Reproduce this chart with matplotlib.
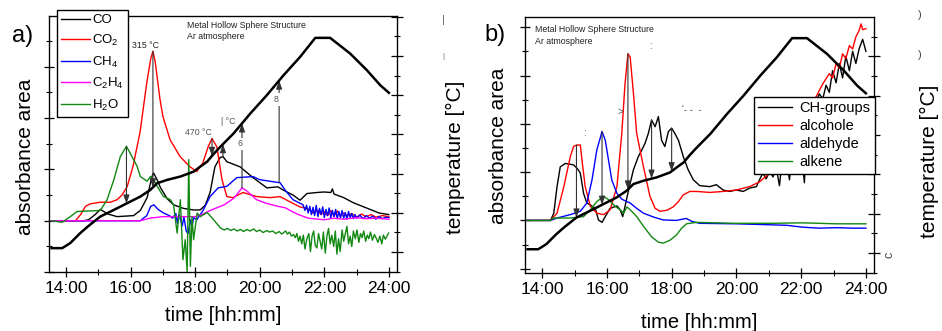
import numpy as np
import matplotlib
matplotlib.use('Agg')
import matplotlib.pyplot as plt
from matplotlib.ticker import MultipleLocator, FuncFormatter

plt.rcParams['font.family'] = ['Liberation Sans', 'DejaVu Sans']
plt.rcParams['mathtext.default'] = 'regular'

# temperature programme (same run for both panels), hours / deg C
temp_t = [13.55, 13.88, 14.13, 14.44, 14.70, 15.06, 15.48, 15.89, 16.30, 16.61,
          16.82, 17.13, 17.54, 17.95, 18.16, 18.37, 18.57, 18.78, 19.19, 19.71,
          20.22, 20.74, 21.25, 21.72, 22.18, 22.80, 23.32, 23.73, 24.00]
temp_c = [20, 20, 46, 97, 134, 181, 215, 249, 283, 317,
          351, 368, 385, 410, 436, 461, 500, 537, 605, 707,
          800, 902, 995, 1092, 1092, 1012, 927, 851, 812]

# panel a) gases, absorbance area (arb. units, baseline 0)
co_t = [13.55, 14.55, 14.70, 14.90, 15.06, 15.30, 15.58, 16.09, 16.30, 16.51,
        16.66, 16.71, 16.82, 16.92, 17.13, 17.33, 17.64, 17.95, 18.15, 18.31,
        18.46, 18.61, 18.77, 18.86, 18.98, 19.39, 19.79, 20.22, 20.56, 20.72,
        21.03, 21.25, 21.46, 21.77, 22.00, 22.20, 22.25, 22.30, 22.60, 22.90,
        23.30, 23.70, 24.00]
co_v = [0, 0, 0.02, 0.12, 0.22, 0.13, 0.08, 0.10, 0.20, 0.45,
        0.86, 0.93, 0.80, 0.65, 0.43, 0.31, 0.24, 0.21, 0.21, 0.30,
        0.55, 1.05, 1.23, 1.25, 1.15, 1.05, 0.84, 0.64, 0.66, 0.60,
        0.50, 0.40, 0.53, 0.55, 0.56, 0.55, 0.62, 0.52, 0.45, 0.35,
        0.25, 0.15, 0.12]

co2_t = [13.55, 14.29, 14.45, 14.60, 14.75, 15.06, 15.37, 15.58, 15.73, 15.89,
         16.07, 16.29, 16.50, 16.62, 16.69, 16.76, 16.91, 17.00, 17.22, 17.53,
         17.84, 18.05, 18.24, 18.40, 18.52, 18.67, 18.83, 18.98, 19.17, 19.48,
         19.91, 20.32, 20.63, 20.93, 21.24, 21.40, 21.55, 21.65, 21.80, 21.90,
         22.00, 22.10, 22.20, 22.30, 22.40, 22.50, 22.60, 22.70, 22.85, 23.00,
         23.15, 23.30, 23.45, 23.60, 23.80, 24.00]
co2_v = [0, 0, 0.12, 0.28, 0.33, 0.36, 0.36, 0.41, 0.50, 0.66,
         1.05, 1.72, 2.69, 3.15, 3.30, 3.10, 2.36, 2.03, 1.58, 1.25,
         1.05, 0.96, 1.13, 1.44, 1.60, 1.44, 0.80, 0.47, 0.45, 0.55,
         0.47, 0.45, 0.47, 0.37, 0.27, 0.25, 0.21, 0.15, 0.20, 0.12,
         0.18, 0.10, 0.20, 0.09, 0.19, 0.08, 0.15, 0.10, 0.14, 0.07,
         0.13, 0.08, 0.12, 0.07, 0.10, 0.08]

ch4_t = [13.55, 16.30, 16.50, 16.62, 16.72, 16.85, 17.02, 17.20, 17.30, 17.40,
         17.45, 17.50, 17.60, 17.65, 17.72, 17.78, 17.85, 17.90, 17.95, 18.05,
         18.25, 18.46, 18.71, 18.98, 19.29, 19.79, 20.00, 20.41, 20.63, 20.78,
         21.03, 21.34, 21.40, 21.45, 21.50, 21.55, 21.60, 21.65, 21.70, 21.75,
         21.80, 21.85, 21.90, 21.95, 22.00, 22.05, 22.10, 22.15, 22.20, 22.25,
         22.30, 22.35, 22.40, 22.45, 22.50, 22.55, 22.60, 22.65, 22.70, 22.75,
         22.80, 22.85, 22.90, 22.95, 23.00, 23.10, 23.20, 23.30, 23.40, 23.50,
         23.60, 23.70, 23.80, 23.90, 24.00]
ch4_v = [0, 0, 0.10, 0.28, 0.31, 0.22, 0.15, 0.10, 0.05, 0.14,
         -0.05, 0.12, -0.10, 0.08, -0.20, -0.25, 0.02, -0.12, 0.06, 0.02,
         0.21, 0.47, 0.64, 0.67, 0.84, 0.86, 0.80, 0.76, 0.74, 0.60,
         0.41, 0.31, 0.20, 0.30, 0.15, 0.28, 0.12, 0.26, 0.10, 0.30,
         0.08, 0.24, 0.12, 0.27, 0.06, 0.22, 0.10, 0.25, 0.05, 0.20,
         0.08, 0.22, 0.04, 0.18, 0.06, 0.20, 0.05, 0.16, 0.03, 0.18,
         0.06, 0.14, 0.04, 0.12, 0.05, 0.11, 0.04, 0.10, 0.05, 0.09,
         0.03, 0.08, 0.04, 0.07, 0.06]

c2h4_t = [13.55, 16.30, 16.60, 17.00, 17.50, 18.00, 18.20, 18.50, 18.90, 19.20,
          19.45, 19.60, 19.90, 20.20, 20.50, 20.80, 21.00, 21.20, 21.50, 21.80,
          22.00, 22.30, 22.60, 23.00, 23.30, 23.60, 24.00]
c2h4_v = [0, 0, 0.05, 0.08, 0.08, 0.08, 0.12, 0.21, 0.31, 0.44,
          0.64, 0.58, 0.41, 0.34, 0.29, 0.25, 0.18, 0.12, 0.05, 0.03,
          0.02, 0.05, 0.03, 0.06, 0.04, 0.05, 0.03]

h2o_t = [13.55, 13.88, 14.13, 14.34, 15.06, 15.27, 15.48, 15.68, 15.87, 16.04,
         16.20, 16.30, 16.51, 16.61, 16.71, 16.82, 17.02, 17.23, 17.33, 17.44,
         17.54, 17.62, 17.69, 17.75, 17.80, 17.85, 17.90, 17.95, 18.06, 18.16,
         18.37, 18.57, 18.78, 18.90, 19.00, 19.10, 19.20, 19.30, 19.40, 19.50,
         19.60, 19.70, 19.81, 19.90, 20.00, 20.10, 20.22, 20.30, 20.40, 20.50,
         20.60, 20.68, 20.74, 20.80, 20.86, 20.92, 20.98, 21.05, 21.10, 21.15,
         21.20, 21.25, 21.30, 21.35, 21.40, 21.46, 21.52, 21.57, 21.62, 21.67,
         21.72, 21.77, 21.82, 21.87, 21.92, 21.97, 22.03, 22.08, 22.13, 22.18,
         22.23, 22.29, 22.34, 22.39, 22.44, 22.49, 22.55, 22.60, 22.65, 22.70,
         22.75, 22.80, 22.85, 22.90, 22.96, 23.01, 23.07, 23.12, 23.17, 23.22,
         23.28, 23.33, 23.38, 23.43, 23.49, 23.55, 23.60, 23.66, 23.72, 23.78,
         23.83, 23.89, 23.94, 23.99]
h2o_v = [0, -0.03, 0.08, 0.18, 0.20, 0.41, 0.80, 1.25, 1.45, 1.25,
         1.06, 0.86, 0.77, 0.86, 0.80, 0.67, 0.47, 0.41, 0.31, -0.24,
         0.41, -0.76, -0.37, -0.99, 1.19, -0.89, 0.08, -0.37, 0.15, 0.08,
         0.16, 0.02, -0.14, -0.18, -0.15, -0.19, -0.16, -0.20, -0.17, -0.21,
         -0.17, -0.20, -0.16, -0.21, -0.18, -0.23, -0.19, -0.22, -0.20, -0.25,
         -0.21, -0.26, -0.23, -0.20, -0.26, -0.22, -0.30, -0.27, -0.33, -0.25,
         -0.40, -0.30, -0.45, -0.28, -0.55, -0.35, -0.25, -0.60, -0.30, -0.20,
         -0.48, -0.53, -0.25, -0.40, -0.55, -0.22, -0.63, -0.30, -0.15, -0.45,
         -0.28, -0.50, -0.20, -0.65, -0.35, -0.60, -0.18, -0.40, -0.25, -0.11,
         -0.45, -0.30, -0.50, -0.20, -0.35, -0.18, -0.42, -0.25, -0.33, -0.20,
         -0.40, -0.28, -0.35, -0.22, -0.38, -0.27, -0.33, -0.42, -0.30, -0.45,
         -0.28, -0.36, -0.30, -0.24]

# panel b) functional groups
ch_t = [13.54, 14.26, 14.36, 14.46, 14.56, 14.72, 14.97, 15.08, 15.18, 15.28,
        15.38, 15.49, 15.64, 15.74, 15.85, 15.95, 16.10, 16.31, 16.41, 16.49,
        16.56, 16.67, 16.82, 16.97, 17.08, 17.18, 17.28, 17.38, 17.49, 17.59,
        17.69, 17.79, 17.90, 18.00, 18.10, 18.21, 18.36, 18.51, 18.67, 18.87,
        19.18, 19.38, 19.59, 19.79, 20.00, 20.21, 20.41, 20.62, 20.72, 20.82,
        20.92, 21.03, 21.13, 21.23, 21.33, 21.40, 21.55, 21.64, 21.70, 21.85,
        22.00, 22.10, 22.16, 22.30, 22.46, 22.56, 22.67, 22.77, 22.87, 22.97,
        23.08, 23.18, 23.28, 23.38, 23.49, 23.59, 23.69, 23.79, 23.90, 24.00]
ch_v = [0, 0, 0.15, 0.70, 1.11, 1.18, 1.15, 1.08, 0.98, 0.56,
        0.36, 0.32, 0.25, 0.01, -0.04, 0.08, 0.25, 0.30, 0.22, 0.08,
        0.29, 0.63, 1.05, 1.32, 1.46, 1.60, 1.80, 2.08, 1.94, 2.15,
        1.66, 1.53, 1.84, 1.91, 1.80, 1.66, 1.32, 1.05, 0.84, 0.72,
        0.70, 0.74, 0.63, 0.60, 0.63, 0.60, 0.67, 0.70, 0.85, 0.98,
        0.86, 1.02, 0.90, 1.10, 0.72, 1.15, 1.22, 0.84, 1.28, 1.36,
        1.50, 0.78, 1.62, 1.95, 2.45, 2.62, 2.52, 2.80, 2.65, 3.10,
        2.85, 3.25, 2.95, 3.40, 3.10, 3.50, 3.25, 3.55, 3.75, 3.50]

alc_t = [13.54, 14.26, 14.46, 14.67, 14.87, 14.97, 15.06, 15.18, 15.23, 15.33,
         15.49, 15.69, 15.90, 16.10, 16.31, 16.46, 16.56, 16.65, 16.72, 16.82,
         16.92, 17.13, 17.33, 17.49, 17.64, 17.85, 18.05, 18.21, 18.36, 18.56,
         18.77, 19.18, 19.59, 20.00, 20.41, 20.72, 21.03, 21.33, 21.64, 21.95,
         22.26, 22.46, 22.67, 22.87, 22.97, 23.08, 23.18, 23.28, 23.38, 23.49,
         23.59, 23.69, 23.79, 23.85, 23.90, 24.00]
alc_v = [0, 0, 0.15, 0.70, 1.32, 1.53, 1.56, 1.56, 1.25, 0.70,
         0.29, 0.15, 0.12, 0.22, 0.70, 1.80, 2.83, 3.45, 3.38, 2.63,
         1.80, 1.11, 0.50, 0.25, 0.19, 0.21, 0.28, 0.39, 0.53, 0.60,
         0.60, 0.58, 0.60, 0.63, 0.70, 0.80, 0.98, 1.18, 1.53, 1.80,
         2.21, 2.56, 2.83, 3.04, 2.95, 3.25, 3.15, 3.45, 3.35, 3.62,
         3.55, 3.80, 3.93, 4.07, 3.95, 3.97]

ald_t = [13.54, 14.26, 14.46, 14.87, 15.18, 15.38, 15.54, 15.69, 15.85, 15.95,
         16.05, 16.15, 16.31, 16.46, 16.62, 16.72, 16.92, 17.13, 17.44, 17.74,
         18.15, 18.36, 18.46, 18.62, 18.87, 20.00, 21.03, 21.54, 22.05, 22.56,
         23.08, 23.59, 24.00]
ald_v = [0, 0, 0.05, 0.12, 0.19, 0.36, 0.84, 1.46, 1.84, 1.66,
         1.25, 0.84, 0.56, 0.44, 0.39, 0.36, 0.25, 0.15, 0.07, 0.01,
         0.00, 0.03, 0.04, -0.02, -0.06, -0.07, -0.09, -0.10, -0.14, -0.16,
         -0.15, -0.16, -0.16]

alk_t = [13.54, 14.26, 14.36, 14.87, 15.28, 15.49, 15.69, 15.90, 16.05, 16.26,
         16.41, 16.46, 16.51, 16.62, 16.72, 16.92, 17.13, 17.38, 17.59, 17.74,
         17.95, 18.15, 18.31, 18.46, 18.77, 20.00, 21.03, 22.05, 23.08, 24.00]
alk_v = [0, 0, 0.05, 0.05, 0.08, 0.22, 0.39, 0.50, 0.43, 0.29,
         0.22, 0.19, 0.14, 0.28, 0.22, 0.08, -0.12, -0.34, -0.45, -0.47,
         -0.41, -0.30, -0.16, -0.07, -0.04, -0.06, -0.06, -0.05, -0.07, -0.07]

# arrows from a peak down/up to the temperature curve
arrow_a_times = [15.87, 16.69, 18.52, 18.86, 19.45, 20.60]
arrow_a_from = ['H$_2$O', 'CO$_2$', 'CO$_2$', 'CO', 'C$_2$H$_4$', 'CH$_4$']
arrow_b_times = [15.06, 15.85, 16.65, 17.38, 18.00]
arrow_b_from = ['alcohole', 'aldehyde', 'alcohole', 'CH-groups', 'CH-groups']

series_a = {
    'CO': (co_t, co_v, 'black'),
    'CO$_2$': (co2_t, co2_v, '#ff0000'),
    'CH$_4$': (ch4_t, ch4_v, '#0000ff'),
    'C$_2$H$_4$': (c2h4_t, c2h4_v, '#ff00ff'),
    'H$_2$O': (h2o_t, h2o_v, '#118811'),
}
series_b = {
    'CH-groups': (ch_t, ch_v, 'black'),
    'alcohole': (alc_t, alc_v, '#ff0000'),
    'aldehyde': (ald_t, ald_v, '#0000ff'),
    'alkene': (alk_t, alk_v, '#118811'),
}

fig = plt.figure(figsize=(9.42, 3.31), dpi=100)
ax_a = fig.add_axes([0.052, 0.178, 0.3694, 0.774])
ax_b = fig.add_axes([0.5573, 0.175, 0.3705, 0.7734])


def hhmm(h, _):
    return f'{int(round(h))}:00'


def setup(ax, ylim, tlim):
    ax.set_xlim(13.47, 24.25)
    ax.set_ylim(*ylim)
    ax.xaxis.set_major_locator(MultipleLocator(2))
    ax.xaxis.set_minor_locator(MultipleLocator(1))
    ax.xaxis.set_major_formatter(FuncFormatter(hhmm))
    ax.yaxis.set_major_locator(MultipleLocator(1))
    ax.yaxis.set_minor_locator(MultipleLocator(0.5))
    ax.tick_params(axis='both', which='major', direction='inout', length=7, width=0.9,
                   labelsize=12.5, pad=3)
    ax.tick_params(axis='both', which='minor', direction='inout', length=4, width=0.8)
    ax.tick_params(axis='y', labelleft=False)
    for s in ax.spines.values():
        s.set_linewidth(0.9)
    tax = ax.twinx()
    tax.set_ylim(*tlim)
    tax.yaxis.set_major_locator(MultipleLocator(200))
    tax.yaxis.set_minor_locator(MultipleLocator(100))
    tax.tick_params(axis='y', which='major', direction='inout', length=8, width=0.9,
                    labelright=False)
    tax.tick_params(axis='y', which='minor', direction='inout', length=5, width=0.8)
    tax.plot(temp_t, temp_c, color='black', lw=1.8)
    return tax


def arrows(ax, tax, times, sources, series):
    for t, name in zip(times, sources):
        st, sv, _ = series[name]
        y0 = np.interp(t, st, sv)
        y1 = np.interp(t, temp_t, temp_c)
        ax.annotate('', xy=(t, y1), xycoords=tax.transData,
                    xytext=(t, y0), textcoords=ax.transData,
                    arrowprops=dict(arrowstyle='-|>,head_length=0.5,head_width=0.18',
                                    color='#333333', lw=0.8, shrinkA=0, shrinkB=0,
                                    mutation_scale=10), zorder=5)


# ---- panel a
ta = setup(ax_a, (-1.0, 3.99), (-102, 1204))
lines_a = []
for name, (t, v, c) in series_a.items():
    ln, = ax_a.plot(t, v, color=c, lw=1.0, label=name)
    lines_a.append(ln)
arrows(ax_a, ta, arrow_a_times, arrow_a_from, series_a)

ta.legend(handles=lines_a, loc='upper left', bbox_to_anchor=(0.0602, 0.97),
          bbox_transform=fig.transFigure, fontsize=9.5, frameon=True, fancybox=False,
          edgecolor='black', framealpha=1, handlelength=2.2, handletextpad=0.2,
          labelspacing=0.5, borderpad=0.3, borderaxespad=0)

ax_a.text(0.397, 0.962, 'Metal Hollow Sphere Structure', transform=ax_a.transAxes,
          fontsize=6.3, va='center', color='#222222')
ax_a.text(0.397, 0.918, 'Ar atmosphere', transform=ax_a.transAxes,
          fontsize=6.3, va='center', color='#222222')
ax_a.text(16.04, 3.41, '315 °C', fontsize=6.3, va='center', color='#222222')
ax_a.text(17.68, 1.72, '470 °C', fontsize=6.3, va='center', color='#555555')
ax_a.text(18.80, 1.93, '| °C', fontsize=6.3, va='center', color='#555555')
ta.text(19.40, 1.50, '6', fontsize=6.3, va='center', ha='center', color='#555555',
        transform=ax_a.transData,
        bbox=dict(facecolor='white', edgecolor='none', pad=1.2), zorder=6)
ta.text(20.50, 2.36, '8', fontsize=6.3, va='center', ha='center', color='#555555',
        transform=ax_a.transData,
        bbox=dict(facecolor='white', edgecolor='none', pad=1.5), zorder=6)

# ---- panel b
tb = setup(ax_b, (-1.09, 4.21), (-101, 1199))
lines_b = []
for name, (t, v, c) in series_b.items():
    ln, = ax_b.plot(t, v, color=c, lw=1.0, label=name)
    lines_b.append(ln)
arrows(ax_b, tb, arrow_b_times, arrow_b_from, series_b)

tb.legend(handles=lines_b, loc='upper left', bbox_to_anchor=(0.8004, 0.7069),
          bbox_transform=fig.transFigure, fontsize=10.5, frameon=True, fancybox=False,
          edgecolor='black', framealpha=1, handlelength=2.3, handletextpad=0.5,
          labelspacing=0.27, borderpad=0.3, borderaxespad=0)

ax_b.text(0.029, 0.95, 'Metal Hollow Sphere Structure', transform=ax_b.transAxes,
          fontsize=6.3, va='center', color='#222222')
ax_b.text(0.029, 0.906, 'Ar atmosphere', transform=ax_b.transAxes,
          fontsize=6.3, va='center', color='#222222')
ax_b.text(17.32, 3.62, ':', fontsize=7, va='center', color='#555555')
ax_b.text(16.34, 2.24, '>', fontsize=7, va='center', color='#555555')
ax_b.text(18.31, 2.28, "'- -  -", fontsize=7, va='center', color='#555555')
ax_b.text(15.26, 1.81, ':', fontsize=7, va='center', color='#555555')

# ---- labels
fig.text(0.0276, 0.526, 'absorbance area', rotation=90, fontsize=15, ha='center', va='center')
fig.text(0.5287, 0.559, 'absorbance area', rotation=90, fontsize=15, ha='center', va='center')
fig.text(0.483, 0.526, 'temperature [°C]', rotation=90, fontsize=15, ha='center', va='center')
fig.text(0.987, 0.514, 'temperature [°C]', rotation=90, fontsize=15, ha='center', va='center')
fig.text(0.2367, 0.048, 'time [hh:mm]', fontsize=14.5, ha='center', va='center')
fig.text(0.742, 0.027, 'time [hh:mm]', fontsize=14.5, ha='center', va='center')
fig.text(0.0244, 0.891, 'a)', fontsize=17, ha='center', va='center')
fig.text(0.5255, 0.894, 'b)', fontsize=17, ha='center', va='center')

# clipped tick-label remnants at the right edges
fig.text(0.4703, 0.94, '|', fontsize=8, color='#666666', ha='center', va='center')
fig.text(0.4703, 0.83, '|', fontsize=6, color='#666666', ha='center', va='center')
fig.text(0.977, 0.955, ')', fontsize=8, color='#444444', ha='center', va='center')
fig.text(0.977, 0.835, ')', fontsize=8, color='#444444', ha='center', va='center')
fig.text(0.944, 0.23, 'c', fontsize=9, color='#444444', ha='center', va='center', rotation=90)

fig.savefig('out.png', dpi=100)
